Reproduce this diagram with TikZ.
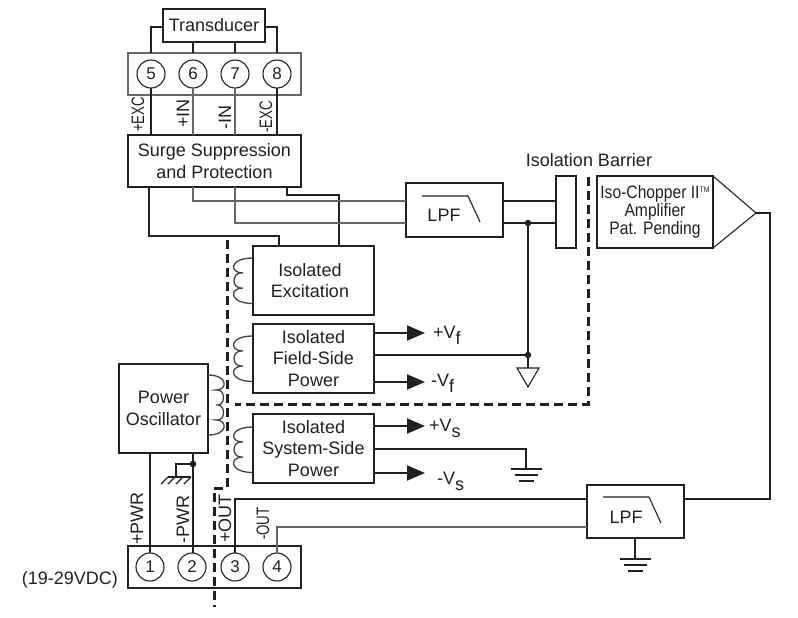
\documentclass[tikz,border=0pt]{standalone}
\usepackage{fontspec}
\setmainfont{Liberation Sans}
\newfontfamily\narrowfont[FakeStretch=0.87]{Liberation Sans}
\newfontfamily\tightfont[FakeStretch=0.74]{Liberation Sans}
\usetikzlibrary{arrows.meta}
\definecolor{ink}{HTML}{231F20}
\definecolor{sig}{HTML}{666666}
\tikzset{
  textfont/.style={font=\fontsize{18}{21.5}\selectfont},
  block/.style={draw=ink, line width=2pt, inner sep=0pt, outer sep=0pt, text=ink, align=center, textfont},
  term/.style={draw=ink, circle, line width=1.1pt, minimum size=28pt, inner sep=0pt, outer sep=0pt, text=ink, font=\fontsize{17}{20}\selectfont},
  tag/.style={rotate=90, inner sep=0pt, text=ink, textfont},
  note/.style={inner sep=0pt, text=ink, textfont},
  wire/.style={draw=ink, line width=2pt},
  thinwire/.style={draw=ink, line width=1.1pt},
  signal/.style={draw=sig, line width=1.3pt},
  power/.style={wire, -{Triangle[length=18pt,width=15pt]}},
  barrier/.style={draw=ink, line width=3pt, dash pattern=on 9pt off 5pt},
  dot/.style={circle, fill=ink, minimum size=6.5pt, inner sep=0pt},
  earth/.pic={
    \draw[wire] (-15.5,0) -- (15.5,0);
    \draw[wire] (-11.5,6) -- (11.5,6);
    \draw[wire] (-7.5,12) -- (7.5,12);
  },
  lpfcurve/.pic={ \draw[thinwire] (0,0) -- (46,0) -- (58,26); },
  coilthree/.pic={
    \draw[signal, draw=ink!85] (0,0) .. controls (-24,0) and (-24,15) .. (-10,15)
      .. controls (-22,13) and (-22,32) .. (-10,30)
      .. controls (-24,30) and (-24,45.5) .. (0,45.5);
  },
  coilfour/.pic={
    \draw[signal, draw=ink!85] (0,0) .. controls (-20,0) and (-20,15) .. (-8,15)
      .. controls (-18,13) and (-18,32) .. (-8,30)
      .. controls (-18,28) and (-18,47) .. (-8,45)
      .. controls (-20,45) and (-20,60) .. (0,60);
  },
}

\begin{document}
\begin{tikzpicture}[x=1pt, y=-1pt]
  \useasboundingbox (0,0) rectangle (798,618);

  % field-side blocks
  \node[block, minimum width=102pt, minimum height=33pt] (transducer) at (214,25.5) {Transducer};
  \node[draw=sig, line width=1.3pt, minimum width=173pt, minimum height=42pt, inner sep=0pt, outer sep=0pt] (fieldstrip) at (214.5,74) {};
  \node[block, minimum width=173pt, minimum height=52pt] (surge) at (214.5,161) {Surge Suppression\\and Protection};
  \node[block, minimum width=97pt, minimum height=54pt] (lpfa) at (454.5,210) {};
  \node[block, minimum width=20pt, minimum height=72pt] (isobox) at (566,212) {};
  \node[block, minimum width=116pt, minimum height=72pt, font=\narrowfont\fontsize{18}{18}\selectfont] (chopper) at (655,212)
    {Iso-Chopper II\raisebox{6pt}{\fontsize{8}{8}\selectfont TM}\\Amplifier\\Pat. Pending};
  \node[block, minimum width=121pt, minimum height=69pt] (excite) at (313.5,280.5) {\hspace*{-7pt}Isolated\\\hspace*{-7pt}Excitation};
  \node[block, minimum width=121pt, minimum height=69pt] (fieldpwr) at (313.5,358.5) {Isolated\\Field-Side\\Power};
  \node[block, minimum width=121pt, minimum height=69pt] (syspwr) at (313.5,448.5) {Isolated\\System-Side\\Power};
  \node[block, minimum width=89pt, minimum height=89pt] (osc) at (163.5,408.5) {Power\\Oscillator};
  \node[block, minimum width=173pt, minimum height=42pt] (sysstrip) at (214.5,567) {};
  \node[block, minimum width=97pt, minimum height=53pt] (lpfb) at (635.5,511.5) {};

  % amplifier wedge and isolation marks
  \coordinate (ampout) at (756,213);
  \draw[thinwire] (chopper.north east) -- (ampout) -- (chopper.south east);
  \draw[barrier] (227,240) -- (227,488) -- (214,488) -- (214,607);
  \draw[barrier] (588,177) -- (588,404) -- (235,404);

  % terminals
  \foreach \n/\x in {5/151,6/193,7/235,8/277}{ \node[term] (t\n) at (\x,74) {\n}; }
  \foreach \n/\x in {1/150,2/192,3/235,4/277}{ \node[term] (t\n) at (\x,567) {\n}; }

  % transducer and input wires
  \draw[wire] (transducer.west |- 0,27) -| (t5.north |- fieldstrip.north);
  \draw[wire] (transducer.east |- 0,27) -| (t8.north |- fieldstrip.north);
  \draw[wire] (t6.north |- transducer.south) -- (t6.north |- fieldstrip.north);
  \draw[wire] (t7.north |- transducer.south) -- (t7.north |- fieldstrip.north);
  \draw[wire] (t5.south) -- (t5.south |- surge.north);
  \draw[wire] (t8.south) -- (t8.south |- surge.north);
  \draw[signal] (t6.south) -- (t6.south |- surge.north);
  \draw[signal] (t7.south) -- (t7.south |- surge.north);

  % surge outputs
  \draw[wire] (149,187) |- (279,236) -- (279,246);
  \draw[wire] (287,187) |- (339,195) -- (339,246);
  \draw[signal] (t6.south |- surge.south) |- (lpfa.west |- 0,201);
  \draw[signal] (t7.south |- surge.south) |- (lpfa.west |- 0,223);
  \draw[thinwire] (lpfa.east |- 0,201) -- (isobox.west |- 0,201);
  \draw[thinwire] (lpfa.east |- 0,223) -- (isobox.west |- 0,223);

  % field ground
  \node[dot] (jsig) at (528,223) {};
  \node[dot] (jgnd) at (528,355) {};
  \coordinate (tri) at (528,368);
  \draw[wire] (jsig) -- (tri);
  \draw[wire] (fieldpwr.east |- jgnd) -- (jgnd);
  \draw[thinwire] (517,368) -- (539,368) -- (528,387) -- cycle;

  % supply rails
  \coordinate (vfp) at (425,333);
  \coordinate (vfm) at (425,382);
  \coordinate (vsp) at (425,426);
  \coordinate (vsm) at (425,473);
  \draw[power] (fieldpwr.east |- vfp) -- (vfp);
  \draw[power] (fieldpwr.east |- vfm) -- (vfm);
  \draw[power] (syspwr.east |- vsp) -- (vsp);
  \draw[power] (syspwr.east |- vsm) -- (vsm);
  \coordinate (gnda) at (526,469);
  \draw[wire] (syspwr.east |- 0,449) -| (gnda);
  \pic at (gnda) {earth};

  % power side
  \node[dot] (jpwr) at (193,464) {};
  \coordinate (chassis) at (176,477);
  \draw[wire] (t1.north |- osc.south) -- (t1.north);
  \draw[wire] (193,453) -- (193,553);
  \draw[wire, line width=1.5pt] (jpwr) -| (chassis);
  \draw[wire, line width=1.5pt] (168,477) -- (191,477);
  \foreach \x in {168,175,183,191}{ \draw[thinwire] (\x,477) -- (\x-7,484); }

  % output wires
  \draw[wire] (ampout) -| (770,499) -- (lpfb.east |- 0,499);
  \draw[wire] (t3.north) |- (lpfb.west |- 0,499);
  \draw[signal] (t4.north) |- (lpfb.west |- 0,527);
  \coordinate (gndb) at (635,559);
  \draw[wire] (lpfb.south -| gndb) -- (gndb);
  \pic at (gndb) {earth};

  % coils
  \pic at (253,258) {coilthree};
  \pic at (253,336) {coilthree};
  \pic at (253,427) {coilthree};
  \pic[xscale=-1] at (208,375) {coilfour};

  % filter labels
  \node[note] (lpfatext) at (444,215) {LPF};
  \pic at (422,196) {lpfcurve};
  \node[note] (lpfbtext) at (626,517) {LPF};
  \pic at (603,497) {lpfcurve};

  % text labels
  \node[note] (isolabel) at (589,160) {Isolation Barrier};
  \node[note, anchor=west] (vfplabel) at (433,335) {+V\raisebox{-6pt}{f}};
  \node[note, anchor=west] (vfmlabel) at (431,383) {-V\raisebox{-6pt}{f}};
  \node[note, anchor=west] (vsplabel) at (429,428) {+V\raisebox{-6pt}{s}};
  \node[note, anchor=west] (vsmlabel) at (437,481) {-V\raisebox{-6pt}{s}};
  \node[note, anchor=east] (vdclabel) at (118,580) {(19-29VDC)};

  % rotated pin labels
  \node[tag, font=\tightfont\fontsize{18}{18}\selectfont, anchor=west] (excp) at (138,132) {+EXC};
  \node[tag, anchor=west] (inp) at (183,128) {+IN};
  \node[tag, anchor=west] (inm) at (225,130) {-IN};
  \node[tag, font=\tightfont\fontsize{18}{18}\selectfont, anchor=west] (excm) at (266,133) {-EXC};
  \node[tag, anchor=west] (pwrp) at (137,545) {+PWR};
  \node[tag, anchor=west] (pwrm) at (183,544) {-PWR};
  \node[tag, anchor=west] (outp) at (225,543) {+OUT};
  \node[tag, font=\tightfont\fontsize{18}{18}\selectfont, anchor=west] (outm) at (263,540) {-OUT};
\end{tikzpicture}
\end{document}
